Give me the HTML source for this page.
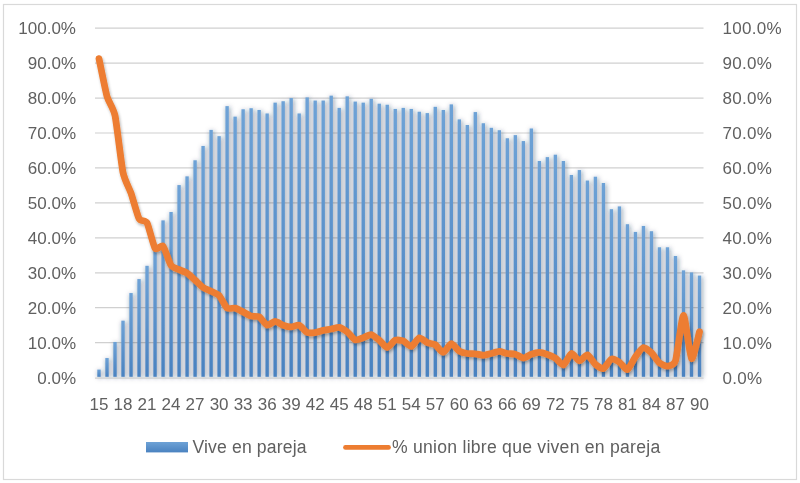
<!DOCTYPE html>
<html><head><meta charset="utf-8"><style>
html,body{margin:0;padding:0;background:#fff;}
body{width:800px;height:483px;overflow:hidden;position:relative;}
svg{position:absolute;left:0;top:0;filter:blur(0.45px);}
text{font-family:"Liberation Sans",sans-serif;fill:#606060;}
</style></head><body>
<svg width="800" height="483" viewBox="0 0 800 483">
<defs>
<filter id="bs" x="-50%" y="-10%" width="300%" height="120%">
<feGaussianBlur in="SourceAlpha" stdDeviation="2.6"/>
<feOffset dx="1" dy="1" result="o"/>
<feFlood flood-color="#1a3050" flood-opacity="0.55"/>
<feComposite in2="o" operator="in"/>
<feMerge><feMergeNode/><feMergeNode in="SourceGraphic"/></feMerge>
</filter>
<filter id="ls" x="-10%" y="-10%" width="120%" height="120%">
<feGaussianBlur in="SourceAlpha" stdDeviation="1.5"/>
<feOffset dx="1" dy="1.5" result="o"/>
<feComponentTransfer><feFuncA type="linear" slope="0.3"/></feComponentTransfer>
<feMerge><feMergeNode/><feMergeNode in="SourceGraphic"/></feMerge>
</filter>
</defs>
<rect x="3.5" y="4.5" width="793" height="475" fill="#fff" stroke="#d9d9d9" stroke-width="1.2"/>
<g stroke="#d0d0d0" stroke-width="1.2"><line x1="95.0" x2="703.5" y1="342.66" y2="342.66"/><line x1="95.0" x2="703.5" y1="307.72" y2="307.72"/><line x1="95.0" x2="703.5" y1="272.78" y2="272.78"/><line x1="95.0" x2="703.5" y1="237.84" y2="237.84"/><line x1="95.0" x2="703.5" y1="202.90" y2="202.90"/><line x1="95.0" x2="703.5" y1="167.96" y2="167.96"/><line x1="95.0" x2="703.5" y1="133.02" y2="133.02"/><line x1="95.0" x2="703.5" y1="98.08" y2="98.08"/><line x1="95.0" x2="703.5" y1="63.14" y2="63.14"/><line x1="95.0" x2="703.5" y1="28.20" y2="28.20"/></g>
<linearGradient id="bg" x1="0" y1="0" x2="0" y2="1"><stop offset="0" stop-color="#6ea2d6"/><stop offset="1" stop-color="#4a82c0"/></linearGradient><g fill="url(#bg)" filter="url(#bs)"><rect x="97.30" y="369.56" width="3.4" height="7.24"/><rect x="105.31" y="358.03" width="3.4" height="18.77"/><rect x="113.32" y="341.96" width="3.4" height="34.84"/><rect x="121.32" y="320.65" width="3.4" height="56.15"/><rect x="129.33" y="293.05" width="3.4" height="83.75"/><rect x="137.34" y="279.07" width="3.4" height="97.73"/><rect x="145.34" y="265.79" width="3.4" height="111.01"/><rect x="153.35" y="248.32" width="3.4" height="128.48"/><rect x="161.36" y="220.37" width="3.4" height="156.43"/><rect x="169.36" y="211.98" width="3.4" height="164.82"/><rect x="177.37" y="185.08" width="3.4" height="191.72"/><rect x="185.38" y="176.35" width="3.4" height="200.45"/><rect x="193.38" y="160.27" width="3.4" height="216.53"/><rect x="201.39" y="145.95" width="3.4" height="230.85"/><rect x="209.40" y="129.88" width="3.4" height="246.92"/><rect x="217.40" y="136.16" width="3.4" height="240.64"/><rect x="225.41" y="106.12" width="3.4" height="270.68"/><rect x="233.42" y="116.60" width="3.4" height="260.20"/><rect x="241.42" y="109.26" width="3.4" height="267.54"/><rect x="249.43" y="108.21" width="3.4" height="268.59"/><rect x="257.43" y="109.96" width="3.4" height="266.84"/><rect x="265.44" y="113.45" width="3.4" height="263.35"/><rect x="273.45" y="102.62" width="3.4" height="274.18"/><rect x="281.45" y="101.22" width="3.4" height="275.58"/><rect x="289.46" y="98.08" width="3.4" height="278.72"/><rect x="297.47" y="113.45" width="3.4" height="263.35"/><rect x="305.47" y="97.38" width="3.4" height="279.42"/><rect x="313.48" y="100.53" width="3.4" height="276.27"/><rect x="321.49" y="100.53" width="3.4" height="276.27"/><rect x="329.49" y="95.63" width="3.4" height="281.17"/><rect x="337.50" y="107.86" width="3.4" height="268.94"/><rect x="345.51" y="96.33" width="3.4" height="280.47"/><rect x="353.51" y="101.57" width="3.4" height="275.23"/><rect x="361.52" y="102.62" width="3.4" height="274.18"/><rect x="369.53" y="98.78" width="3.4" height="278.02"/><rect x="377.53" y="103.67" width="3.4" height="273.13"/><rect x="385.54" y="104.72" width="3.4" height="272.08"/><rect x="393.55" y="108.91" width="3.4" height="267.89"/><rect x="401.55" y="107.86" width="3.4" height="268.94"/><rect x="409.56" y="108.91" width="3.4" height="267.89"/><rect x="417.57" y="111.71" width="3.4" height="265.09"/><rect x="425.57" y="113.10" width="3.4" height="263.70"/><rect x="433.58" y="106.81" width="3.4" height="269.99"/><rect x="441.59" y="109.96" width="3.4" height="266.84"/><rect x="449.59" y="104.37" width="3.4" height="272.43"/><rect x="457.60" y="119.39" width="3.4" height="257.41"/><rect x="465.61" y="124.98" width="3.4" height="251.82"/><rect x="473.61" y="112.06" width="3.4" height="264.74"/><rect x="481.62" y="123.24" width="3.4" height="253.56"/><rect x="489.63" y="127.78" width="3.4" height="249.02"/><rect x="497.63" y="130.22" width="3.4" height="246.58"/><rect x="505.64" y="138.26" width="3.4" height="238.54"/><rect x="513.65" y="135.12" width="3.4" height="241.68"/><rect x="521.65" y="141.06" width="3.4" height="235.74"/><rect x="529.66" y="128.48" width="3.4" height="248.32"/><rect x="537.67" y="160.97" width="3.4" height="215.83"/><rect x="545.67" y="157.13" width="3.4" height="219.67"/><rect x="553.68" y="154.68" width="3.4" height="222.12"/><rect x="561.68" y="160.97" width="3.4" height="215.83"/><rect x="569.69" y="174.95" width="3.4" height="201.85"/><rect x="577.70" y="170.06" width="3.4" height="206.74"/><rect x="585.70" y="180.54" width="3.4" height="196.26"/><rect x="593.71" y="176.69" width="3.4" height="200.11"/><rect x="601.72" y="182.98" width="3.4" height="193.82"/><rect x="609.72" y="209.19" width="3.4" height="167.61"/><rect x="617.73" y="206.39" width="3.4" height="170.41"/><rect x="625.74" y="224.21" width="3.4" height="152.59"/><rect x="633.74" y="231.90" width="3.4" height="144.90"/><rect x="641.75" y="225.96" width="3.4" height="150.84"/><rect x="649.76" y="231.20" width="3.4" height="145.60"/><rect x="657.76" y="247.27" width="3.4" height="129.53"/><rect x="665.77" y="247.27" width="3.4" height="129.53"/><rect x="673.78" y="256.01" width="3.4" height="120.79"/><rect x="681.78" y="270.33" width="3.4" height="106.47"/><rect x="689.79" y="272.43" width="3.4" height="104.37"/><rect x="697.80" y="275.58" width="3.4" height="101.22"/></g>
<line x1="95.0" x2="703.5" y1="378.1" y2="378.1" stroke="#d0d0d0" stroke-width="1.4"/>
<path d="M99.00,58.60 C99.80,62.37 105.41,90.64 107.01,96.33 C108.61,102.03 113.42,107.93 115.02,115.55 C116.62,123.17 121.42,164.75 123.02,172.50 C124.62,180.26 129.43,188.50 131.03,193.12 C132.63,197.73 137.43,215.65 139.04,218.62 C140.64,221.59 145.44,219.85 147.04,222.82 C148.64,225.79 153.45,245.98 155.05,248.32 C156.65,250.66 161.45,244.51 163.06,246.23 C164.66,247.94 169.46,263.10 171.06,265.44 C172.66,267.78 177.47,268.87 179.07,269.64 C180.67,270.40 185.47,272.08 187.08,273.13 C188.68,274.18 193.48,278.68 195.08,280.12 C196.68,281.55 201.49,286.34 203.09,287.45 C204.69,288.57 209.49,290.49 211.10,291.30 C212.70,292.10 217.50,293.81 219.10,295.49 C220.70,297.17 225.51,306.81 227.11,308.07 C228.71,309.33 233.51,307.69 235.12,308.07 C236.72,308.45 241.52,311.11 243.12,311.91 C244.72,312.72 249.53,315.62 251.13,316.11 C252.73,316.59 257.53,315.90 259.13,316.80 C260.74,317.71 265.54,324.74 267.14,325.19 C268.74,325.64 273.55,321.35 275.15,321.35 C276.75,321.35 281.55,324.63 283.15,325.19 C284.76,325.75 289.56,326.94 291.16,326.94 C292.76,326.94 297.57,324.63 299.17,325.19 C300.77,325.75 305.57,331.79 307.17,332.53 C308.78,333.26 313.58,332.74 315.18,332.53 C316.78,332.32 321.59,330.78 323.19,330.43 C324.79,330.08 329.59,329.35 331.19,329.03 C332.80,328.72 337.60,327.01 339.20,327.29 C340.80,327.57 345.61,330.57 347.21,331.83 C348.81,333.09 353.61,339.27 355.21,339.86 C356.82,340.46 361.62,338.29 363.22,337.77 C364.82,337.24 369.63,334.38 371.23,334.62 C372.83,334.87 377.63,338.92 379.23,340.21 C380.83,341.51 385.64,347.55 387.24,347.55 C388.84,347.55 393.65,340.88 395.25,340.21 C396.85,339.55 401.65,340.28 403.25,340.91 C404.85,341.54 409.66,346.82 411.26,346.50 C412.86,346.19 417.67,338.15 419.27,337.77 C420.87,337.38 425.67,341.96 427.27,342.66 C428.87,343.36 433.68,343.78 435.28,344.76 C436.88,345.73 441.68,352.55 443.29,352.44 C444.89,352.34 449.69,343.85 451.29,343.71 C452.89,343.57 457.70,350.07 459.30,351.05 C460.90,352.02 465.70,353.21 467.31,353.49 C468.91,353.77 473.71,353.67 475.31,353.84 C476.91,354.02 481.72,355.27 483.32,355.24 C484.92,355.20 489.72,353.88 491.33,353.49 C492.93,353.11 497.73,351.40 499.33,351.40 C500.93,351.40 505.74,353.21 507.34,353.49 C508.94,353.77 513.74,353.74 515.35,354.19 C516.95,354.64 521.75,358.03 523.35,358.03 C524.95,358.03 529.76,354.75 531.36,354.19 C532.96,353.63 537.76,352.41 539.37,352.44 C540.97,352.48 545.77,353.98 547.37,354.54 C548.97,355.10 553.78,356.99 555.38,358.03 C556.98,359.08 561.78,365.48 563.38,365.02 C564.99,364.57 569.79,353.91 571.39,353.49 C572.99,353.07 577.80,360.69 579.40,360.83 C581.00,360.97 585.80,354.54 587.40,354.89 C589.01,355.24 593.81,362.96 595.41,364.32 C597.01,365.69 601.82,369.04 603.42,368.52 C605.02,367.99 609.82,359.71 611.42,359.08 C613.03,358.45 617.83,361.18 619.43,362.23 C621.03,363.27 625.84,370.12 627.44,369.56 C629.04,369.00 633.84,358.84 635.44,356.64 C637.05,354.43 641.85,347.94 643.45,347.55 C645.05,347.17 649.86,351.26 651.46,352.79 C653.06,354.33 657.86,361.60 659.46,362.93 C661.07,364.25 665.87,366.28 667.47,366.07 C669.07,365.86 673.88,365.90 675.48,360.83 C677.08,355.76 681.88,315.62 683.48,315.41 C685.08,315.20 689.89,357.09 691.49,358.73 C693.09,360.37 698.70,334.52 699.50,331.83" fill="none" stroke="#ed7d31" stroke-width="6.8" stroke-linecap="round" stroke-linejoin="round" filter="url(#ls)"/>
<g font-size="17"><text x="76" y="383.70" text-anchor="end">0.0%</text><text x="76" y="348.76" text-anchor="end">10.0%</text><text x="76" y="313.82" text-anchor="end">20.0%</text><text x="76" y="278.88" text-anchor="end">30.0%</text><text x="76" y="243.94" text-anchor="end">40.0%</text><text x="76" y="209.00" text-anchor="end">50.0%</text><text x="76" y="174.06" text-anchor="end">60.0%</text><text x="76" y="139.12" text-anchor="end">70.0%</text><text x="76" y="104.18" text-anchor="end">80.0%</text><text x="76" y="69.24" text-anchor="end">90.0%</text><text x="76" y="34.30" text-anchor="end">100.0%</text><text x="722.5" y="383.70" letter-spacing="0.3">0.0%</text><text x="722.5" y="348.76" letter-spacing="0.3">10.0%</text><text x="722.5" y="313.82" letter-spacing="0.3">20.0%</text><text x="722.5" y="278.88" letter-spacing="0.3">30.0%</text><text x="722.5" y="243.94" letter-spacing="0.3">40.0%</text><text x="722.5" y="209.00" letter-spacing="0.3">50.0%</text><text x="722.5" y="174.06" letter-spacing="0.3">60.0%</text><text x="722.5" y="139.12" letter-spacing="0.3">70.0%</text><text x="722.5" y="104.18" letter-spacing="0.3">80.0%</text><text x="722.5" y="69.24" letter-spacing="0.3">90.0%</text><text x="722.5" y="34.30" letter-spacing="0.3">100.0%</text><text x="99.00" y="409.5" text-anchor="middle">15</text><text x="123.02" y="409.5" text-anchor="middle">18</text><text x="147.04" y="409.5" text-anchor="middle">21</text><text x="171.06" y="409.5" text-anchor="middle">24</text><text x="195.08" y="409.5" text-anchor="middle">27</text><text x="219.10" y="409.5" text-anchor="middle">30</text><text x="243.12" y="409.5" text-anchor="middle">33</text><text x="267.14" y="409.5" text-anchor="middle">36</text><text x="291.16" y="409.5" text-anchor="middle">39</text><text x="315.18" y="409.5" text-anchor="middle">42</text><text x="339.20" y="409.5" text-anchor="middle">45</text><text x="363.22" y="409.5" text-anchor="middle">48</text><text x="387.24" y="409.5" text-anchor="middle">51</text><text x="411.26" y="409.5" text-anchor="middle">54</text><text x="435.28" y="409.5" text-anchor="middle">57</text><text x="459.30" y="409.5" text-anchor="middle">60</text><text x="483.32" y="409.5" text-anchor="middle">63</text><text x="507.34" y="409.5" text-anchor="middle">66</text><text x="531.36" y="409.5" text-anchor="middle">69</text><text x="555.38" y="409.5" text-anchor="middle">72</text><text x="579.40" y="409.5" text-anchor="middle">75</text><text x="603.42" y="409.5" text-anchor="middle">78</text><text x="627.44" y="409.5" text-anchor="middle">81</text><text x="651.46" y="409.5" text-anchor="middle">84</text><text x="675.48" y="409.5" text-anchor="middle">87</text><text x="699.50" y="409.5" text-anchor="middle">90</text></g>
<rect x="146" y="442" width="42" height="10.4" fill="url(#bg)"/>
<text x="192.5" y="452.6" font-size="17.6" letter-spacing="0.14">Vive en pareja</text>
<line x1="345.5" x2="388.5" y1="447.4" y2="447.4" stroke="#ed7d31" stroke-width="4.8" stroke-linecap="round"/>
<text x="392" y="452.6" font-size="17.6" letter-spacing="0.25">% union libre que viven en pareja</text>
</svg>
</body></html>
